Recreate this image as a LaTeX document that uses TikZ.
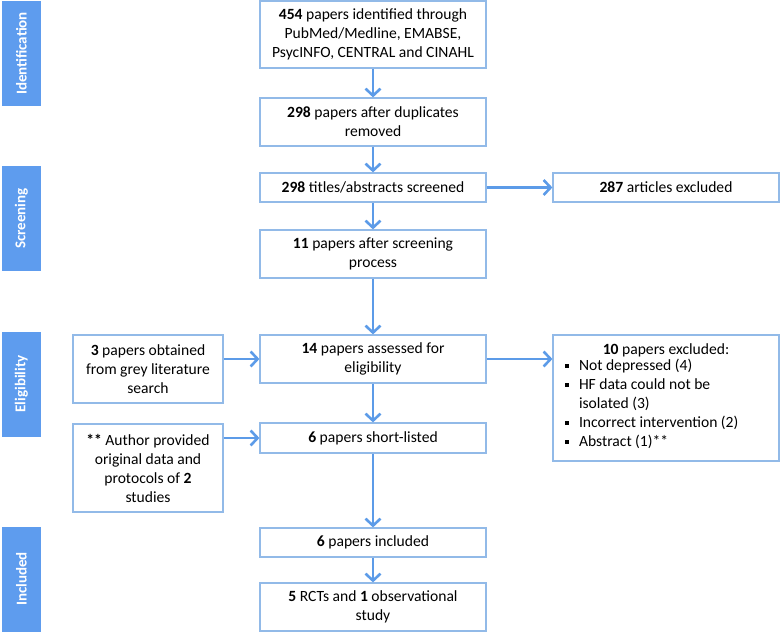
\documentclass[tikz,border=0pt]{standalone}
\usepackage{fontspec}
\setmainfont{Carlito}
\usetikzlibrary{arrows.meta}

\definecolor{barblue}{RGB}{94,156,238}
\definecolor{arrowblue}{RGB}{92,155,232}
\definecolor{edgeblue}{RGB}{146,186,232}

\tikzset{
	box/.style={draw=edgeblue, line width=1.2pt, align=center, inner sep=4pt,
		font=\fontsize{15.6}{19}\selectfont},
	sidebar/.style={fill=barblue, rotate=90, minimum width=105pt, minimum height=39pt,
		text=white, font=\fontsize{15}{17}\selectfont\bfseries},
	flow/.style={draw=arrowblue, line width=2.8pt,
		-{Straight Barb[length=7pt,width=15pt,line width=2.6pt]}},
}

\newcommand{\sqbul}{\raisebox{3pt}{\rule{4pt}{4pt}}}

\begin{document}
\begin{tikzpicture}[x=1pt,y=-1pt]
	\useasboundingbox (0,0) rectangle (780,632);
	% stage bars
	\node[sidebar] (sid) at (21.5,53.5) {Identification};
	\node[sidebar] (sscr) at (21.5,218.5) {Screening};
	\node[sidebar] (selig) at (21.5,384) {Eligibility};
	\node[sidebar] (sincl) at (21.5,579) {Included};
	% main column
	\node[box, minimum width=226pt, minimum height=67pt] (ident) at (373,34.5)
		{\textbf{454} papers identified through\\PubMed/Medline, EMABSE,\\PsycINFO, CENTRAL and CINAHL};
	\node[box, minimum width=226pt, minimum height=48pt] (dedup) at (373,122)
		{\textbf{298} papers after duplicates\\removed};
	\node[box, minimum width=226pt, minimum height=29pt] (screen) at (373,187.5)
		{\textbf{298} titles/abstracts screened};
	\node[box, minimum width=226pt, minimum height=48pt] (after) at (373,254)
		{\textbf{11} papers after screening\\process};
	\node[box, minimum width=226pt, minimum height=48pt] (assess) at (373,359)
		{\textbf{14} papers assessed for\\eligibility};
	\node[box, minimum width=226pt, minimum height=30pt] (short) at (373,438)
		{\textbf{6} papers short-listed};
	\node[box, minimum width=226pt, minimum height=29pt] (incl) at (373,542.5)
		{\textbf{6} papers included};
	\node[box, minimum width=226pt, minimum height=48pt] (final) at (373,607)
		{\textbf{5} RCTs and \textbf{1} observational\\study};
	% side boxes
	\node[box, minimum width=226pt, minimum height=126pt, inner xsep=12pt] (excl2) at (666,398)
		{\parbox{202pt}{\centering\textbf{10} papers excluded:\par
		\raggedright
		\begin{tabular}{@{}l@{\hspace{10pt}}l@{}}
		\sqbul & Not depressed (4)\\
		\sqbul & HF data could not be\\
		       & isolated (3)\\
		\sqbul & Incorrect intervention (2)\\
		\sqbul & Abstract (1)**
		\end{tabular}}};
	\node[box, minimum width=226pt, minimum height=29pt] (excl1) at (666,187.5)
		{\textbf{287} articles excluded};
	\node[box, minimum width=150pt, minimum height=68pt] (grey) at (148,369)
		{\textbf{3} papers obtained\\from grey literature\\search};
	\node[box, minimum width=150pt, minimum height=88pt] (author) at (148,468)
		{\textbf{**} Author provided\\original data and\\protocols of \textbf{2}\\studies};
	% arrows
	\draw[flow] (ident) -- (dedup);
	\draw[flow] (dedup) -- (screen);
	\draw[flow] (screen) -- (after);
	\draw[flow] (after) -- (assess);
	\draw[flow] (assess) -- (short);
	\draw[flow] (short) -- (incl);
	\draw[flow] (incl) -- (final);
	\draw[flow] (screen) -- (excl1);
	\draw[flow] (assess) -- (excl2.west |- assess);
	\draw[flow] (grey.east |- assess) -- (assess);
	\draw[flow] (author.east |- short) -- (short);
\end{tikzpicture}
\end{document}
